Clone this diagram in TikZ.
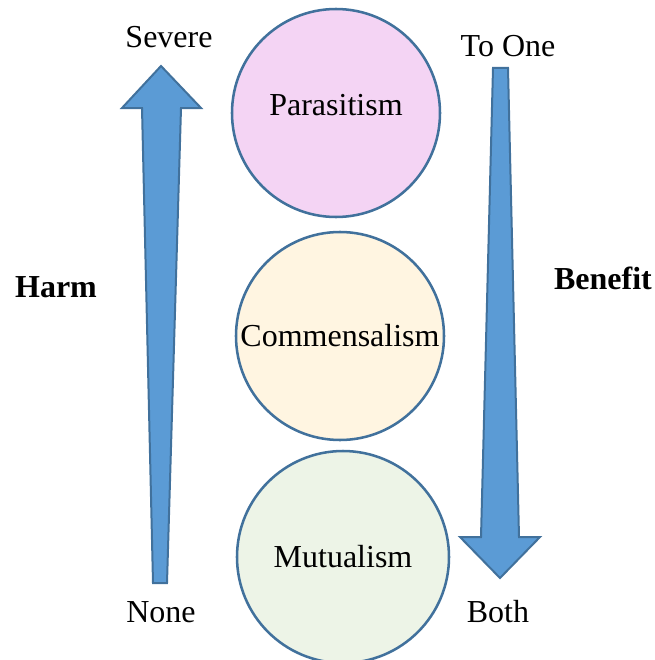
\documentclass[tikz,border=0pt]{standalone}
\usepackage{fontspec}
\setmainfont{Liberation Serif}
\definecolor{arrowblue}{HTML}{5B9BD5}
\definecolor{edgeblue}{HTML}{41719C}
\definecolor{parafill}{HTML}{F4D4F4}
\definecolor{commfill}{HTML}{FFF5E1}
\definecolor{mutufill}{HTML}{EDF4E7}

\begin{document}
\begin{tikzpicture}[x=0.75pt,y=-0.75pt,
	ring/.style={circle,draw=edgeblue,line width=1.9pt,minimum size=156pt,inner sep=0pt,font=\fontsize{24}{28}\selectfont},
	tag/.style={anchor=base,font=\fontsize{24}{28}\selectfont},
	blockarrow/.style={fill=arrowblue,draw=edgeblue,line width=1.5pt,line join=miter}]
	
	\useasboundingbox (0,0) rectangle (655,660);
	
	% Draw the harm arrow (pointing up)
	\draw[blockarrow] (161,66) -- (201,108) -- (181,108) -- (167,583) -- (153,583) -- (142,108) -- (122,108) -- cycle;
	
	% Draw the benefit arrow (pointing down)
	\draw[blockarrow] (493,68) -- (508,68) -- (519,537) -- (540,537) -- (500,578) -- (460,537) -- (481,537) -- cycle;
	
	% Draw the three circles
	\node[ring,fill=parafill,text height=12pt,text depth=9pt] (para) at (336,113) {Parasitism};
	\node[ring,fill=commfill] (comm) at (340,336) {Commensalism};
	\node[ring,fill=mutufill,minimum size=159pt] (mutu) at (343,557) {Mutualism};
	
	% Draw the end labels
	\node[tag] (severe) at (169,48) {Severe};
	\node[tag] (none) at (161,622) {None};
	\node[tag] (toone) at (508,57) {To One};
	\node[tag] (both) at (498,622) {Both};
	\node[tag,font={\fontsize{24}{28}\selectfont\bfseries}] (harm) at (56,297) {Harm};
	\node[tag,font={\fontsize{24}{28}\selectfont\bfseries}] (benefit) at (603,289) {Benefit};

\end{tikzpicture}
\end{document}
